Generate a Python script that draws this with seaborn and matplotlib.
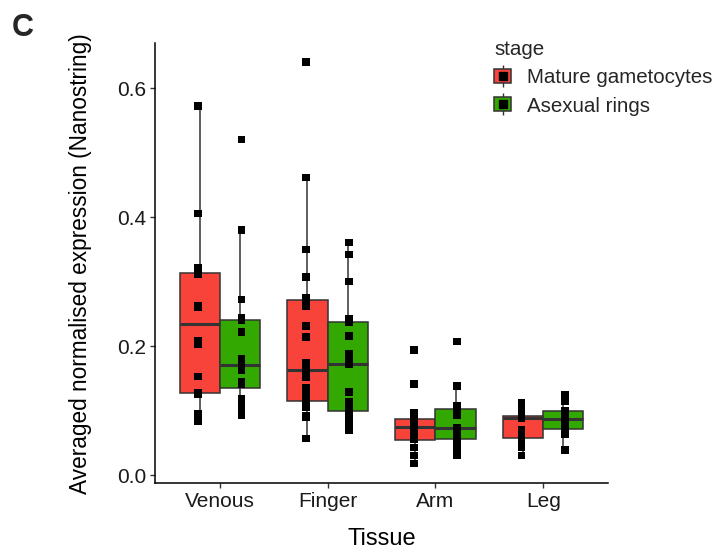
import numpy as np
import pandas as pd
import matplotlib.pyplot as plt
import seaborn as sns
from matplotlib.patches import Patch
from matplotlib.lines import Line2D
from matplotlib.legend_handler import HandlerTuple

# values (averaged normalised expression)
tissues = ['Venous', 'Finger', 'Arm', 'Leg']
stages = ['Mature gametocytes', 'Asexual rings']

venous_mature = [0.084, 0.088, 0.095, 0.126, 0.127, 0.153, 0.203, 0.208, 0.260, 0.263,
                 0.312, 0.313, 0.317, 0.322, 0.406, 0.573]
venous_rings = [0.092, 0.103, 0.115, 0.118, 0.141, 0.144, 0.162, 0.165, 0.177, 0.180,
                0.222, 0.240, 0.244, 0.272, 0.380, 0.521]
finger_mature = [0.057, 0.089, 0.092, 0.105, 0.110, 0.115, 0.126, 0.131, 0.136, 0.151,
                 0.163, 0.175, 0.214, 0.231, 0.262, 0.272, 0.275, 0.307, 0.350, 0.462, 0.641]
finger_rings = [0.069, 0.076, 0.084, 0.089, 0.100, 0.107, 0.113, 0.129, 0.172, 0.182,
                0.188, 0.216, 0.237, 0.242, 0.300, 0.342, 0.361]
arm_mature = [0.018, 0.030, 0.043, 0.055, 0.064, 0.069, 0.074, 0.077, 0.079, 0.087,
              0.096, 0.141, 0.194]
arm_rings = [0.031, 0.043, 0.051, 0.058, 0.064, 0.072, 0.074, 0.092, 0.100, 0.107,
             0.138, 0.207]
leg_mature = [0.030, 0.043, 0.048, 0.057, 0.065, 0.071, 0.088, 0.090, 0.091, 0.092,
              0.096, 0.106, 0.112]
leg_rings = [0.039, 0.064, 0.069, 0.076, 0.084, 0.091, 0.097, 0.100, 0.114, 0.124]

groups = {
    ('Venous', 'Mature gametocytes'): venous_mature,
    ('Venous', 'Asexual rings'): venous_rings,
    ('Finger', 'Mature gametocytes'): finger_mature,
    ('Finger', 'Asexual rings'): finger_rings,
    ('Arm', 'Mature gametocytes'): arm_mature,
    ('Arm', 'Asexual rings'): arm_rings,
    ('Leg', 'Mature gametocytes'): leg_mature,
    ('Leg', 'Asexual rings'): leg_rings,
}

rows = []
for (tissue, stage), vals in groups.items():
    for v in vals:
        rows.append({'Tissue': tissue, 'stage': stage, 'value': v})
df = pd.DataFrame(rows)

RED = '#F8433A'
GREEN = '#33A800'
EDGE = '#333333'
palette = {'Mature gametocytes': RED, 'Asexual rings': GREEN}

sns.set_style('white')
plt.rcParams['font.family'] = ['Liberation Sans', 'DejaVu Sans']

fig = plt.figure(figsize=(7.17, 5.55), dpi=100)
ax = fig.add_axes([155 / 717, 1 - 483 / 555, (608 - 155) / 717, (483 - 43.3) / 555])

sns.boxplot(
    data=df, x='Tissue', y='value', hue='stage',
    order=tissues, hue_order=stages, palette=palette,
    width=0.745, gap=0, showfliers=False, showcaps=False,
    linewidth=1.1, linecolor=EDGE,
    medianprops={'linewidth': 2.2, 'color': EDGE},
    saturation=1, legend=False, ax=ax,
)
sns.stripplot(
    data=df, x='Tissue', y='value', hue='stage',
    order=tissues, hue_order=stages, palette={s: 'black' for s in stages},
    dodge=True, jitter=False, marker='s', size=5.4, linewidth=0,
    legend=False, ax=ax,
)

ax.set_xlim(-0.6, 3.6)
ax.set_ylim(-0.0124, 0.670)
ax.set_yticks([0.0, 0.2, 0.4, 0.6])
ax.set_yticklabels(['0.0', '0.2', '0.4', '0.6'])
ax.set_xlabel('Tissue', fontsize=17, color='black', labelpad=12)
ax.set_ylabel('Averaged normalised expression (Nanostring)', fontsize=16.3,
              color='black', labelpad=18)
ax.tick_params(axis='both', labelsize=15, colors='#333333', labelcolor='#1a1a1a',
               length=3.5, width=1, direction='out', bottom=True, left=True, pad=3)
for side in ['top', 'right']:
    ax.spines[side].set_visible(False)
for side in ['left', 'bottom']:
    ax.spines[side].set_color('black')
    ax.spines[side].set_linewidth(1.1)

# legend keys in the style of a boxplot glyph with a point
handles = []
for s in stages:
    whisk = Line2D([], [], marker='|', color=EDGE, markersize=16, markeredgewidth=1, ls='')
    box = Patch(facecolor=palette[s], edgecolor=EDGE, linewidth=1.1)
    pt = Line2D([], [], marker='s', color='black', markersize=5.4, ls='')
    handles.append((whisk, box, pt))
leg = fig.legend(
    handles, stages, loc='upper left', bbox_to_anchor=(494 / 717, 1 - 40 / 555),
    frameon=False, title='stage', fontsize=14.8, title_fontsize=14.8,
    handler_map={tuple: HandlerTuple(ndivide=1, pad=0)},
    handlelength=0.85, handleheight=0.65, handletextpad=0.75, labelspacing=0.45,
    alignment='left', borderaxespad=0, borderpad=0,
)

fig.text(12 / 717, 1 - 36 / 555, 'C', fontsize=22, fontweight='bold', ha='left', va='baseline')

fig.savefig('out.png', dpi=100, facecolor='white')
